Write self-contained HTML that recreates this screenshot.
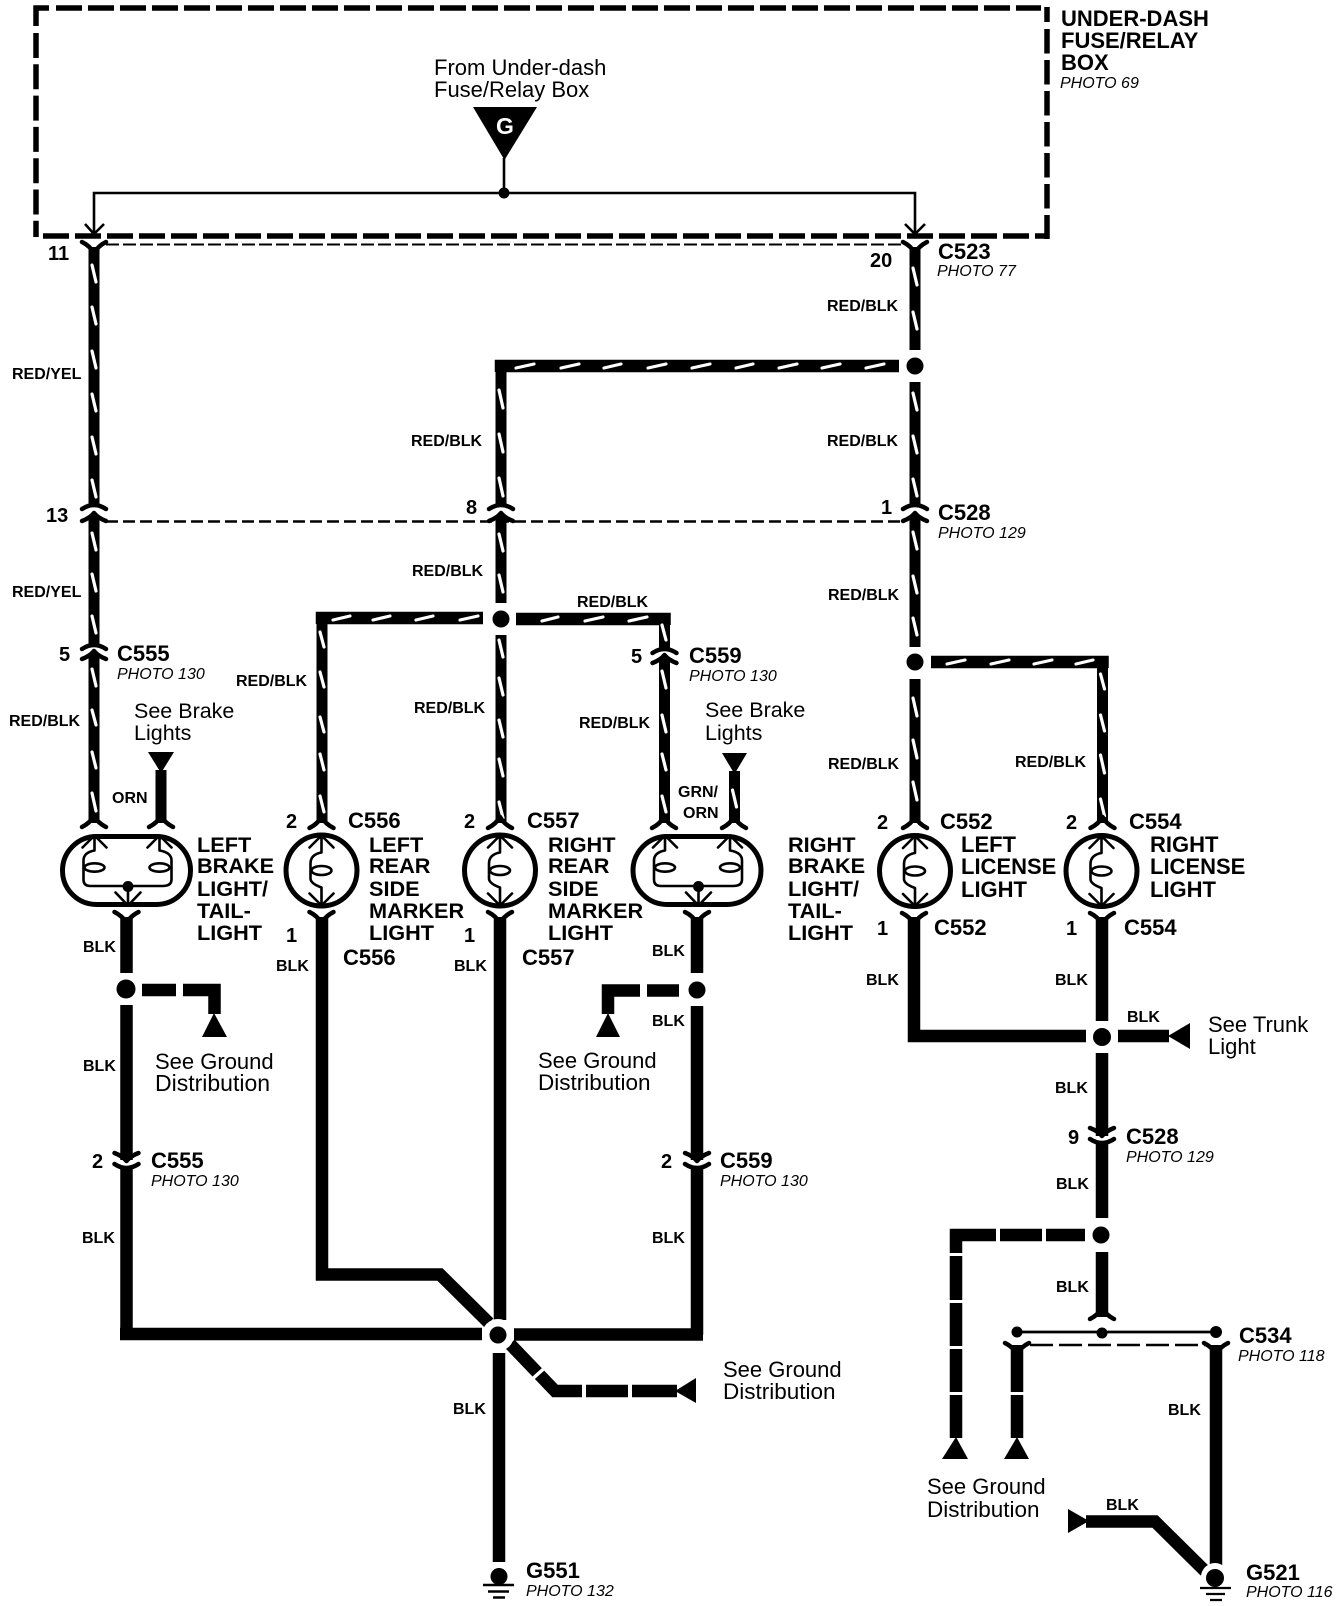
<!DOCTYPE html>
<html><head><meta charset="utf-8"><style>
html,body{margin:0;padding:0;background:#fff}
svg{display:block}
text{font-family:"Liberation Sans",sans-serif;fill:#000}
.b{font-weight:700;font-size:16px}
.c{font-weight:700;font-size:22px}
.n{font-weight:700;font-size:20px}
.t{font-weight:700;font-size:21.7px}
.h{font-weight:700;font-size:22px}
.p{font-style:italic;font-size:16px}
.s{font-size:22px}
.k{fill:none;stroke:#000;stroke-linecap:round;stroke-linejoin:round}
.w{fill:none;stroke:#000;stroke-linecap:butt;stroke-linejoin:miter}
</style></head><body>
<svg width="1344" height="1606" viewBox="0 0 1344 1606" xmlns="http://www.w3.org/2000/svg">
<rect width="1344" height="1606" fill="#fff"/>
<defs>
<path id="f" class="k" stroke-width="4.5" d="M-12,5Q-4,1 0,-6Q4,1 12,5"/>
<path id="y" class="k" stroke-width="4.5" d="M-12,-5Q-4,-1 0,6Q4,-1 12,-5"/>
<path id="a" class="k" stroke-width="4.5" d="M-12,3Q0,-5 12,3"/>
<path id="m" class="k" stroke-width="4.5" d="M-12,8Q-4,5 0,0Q4,5 12,8"/>
<path id="mv" class="k" stroke-width="4.5" d="M-12,-8Q-4,-5 0,0Q4,-5 12,-8"/>
<path id="av" class="k" stroke-width="4.5" d="M-12,-3Q0,5 12,-3"/>
<g id="bulb">
<circle r="35.5" fill="#fff" stroke="#000" stroke-width="5"/>
<path class="k" stroke-width="2.6" d="M0,-35V-18Q-11,-16 -11,-7V8Q-11,13 0,17V35M-12,-23L0,-35L12,-23M-12,23L0,35L12,23M-11,0H-8"/>
<ellipse rx="10" ry="4.5" fill="#fff" stroke="#000" stroke-width="2.6"/>
</g>
<g id="oval">
<rect x="-64" y="-34" width="128" height="68" rx="34" ry="34" fill="#fff" stroke="#000" stroke-width="5"/>
<path class="k" stroke-width="2.6" d="M-32,-35V-20Q-43,-18 -43,-10V9Q-43,15.5 -36,15.5H36Q45,15.5 45,9V-10Q45,-18 33,-20V-35M-44,-23L-32,-35L-20,-23M21,-23L33,-35L45,-23M1.5,16V35M-11,22L1.5,35L14,22M-43,-3H-40M45,-3H42"/>
<ellipse cx="-32" cy="-3" rx="10" ry="4.2" fill="#fff" stroke="#000" stroke-width="2.6"/>
<ellipse cx="33" cy="-3" rx="10" ry="4.2" fill="#fff" stroke="#000" stroke-width="2.6"/>
<circle cx="1.5" cy="16" r="5.5" fill="#000"/>
</g>
</defs>

<!-- fuse box -->
<g fill="none" stroke="#000" stroke-width="5.5">
<path d="M56 8H1041" stroke-dasharray="26 6"/>
<path d="M36 10V8H49" />
<path d="M43 236H1047" stroke-dasharray="26 6"/>
<path d="M36 33V237" stroke-dasharray="25 6.3"/>
<path d="M36 10V26"/>
<path d="M1047 7V22"/>
<path d="M1047 29V239" stroke-dasharray="24.5 6.5"/>
</g>
<!-- thin feed -->
<path d="M504 158V193M94 234V193H915V234" class="w" stroke-width="2.6"/>
<path d="M85 224L94 234L104 224M905 224L915 234L925 224" class="w" stroke-width="2.6"/>
<circle cx="504" cy="193" r="5.5"/>
<path d="M473 107H537L504.500 160Z"/>
<text x="505" y="134" text-anchor="middle" style="fill:#fff;font-size:23px;font-weight:700">G</text>
<!-- dashed connector lines -->
<path d="M106 244.5H904" fill="none" stroke="#000" stroke-width="2" stroke-dasharray="13 4"/>
<path d="M106 521.5H905" fill="none" stroke="#000" stroke-width="2.4" stroke-dasharray="12 5"/>
<path d="M1030 1345H1205" fill="none" stroke="#000" stroke-width="2.4" stroke-dasharray="23 6"/>

<!-- red wires -->
<g class="w" stroke-width="11">
<path d="M94 247V506M94 515V645M94 653V823"/>
<path d="M915 247V350M915 382V506M915 515V647M915 679V823"/>
<path d="M501 372V506M501 515V603M501 635V823"/>
<path d="M322 624V823"/>
<path d="M664.5 625V650M664.5 657V823"/>
<path d="M1102.5 668V823"/>
<path d="M161 770V823M734.5 771V823"/>
</g>
<g class="w" stroke-width="12.5">
<path d="M899 366H501V372"/>
<path d="M483 618H322V624"/>
<path d="M516 619H664.5V625"/>
<path d="M931 662H1102.5V668"/>
</g>
<!-- white slashes -->
<g fill="none" stroke="#fff" stroke-width="3.2" stroke-linecap="round">
<path d="M92 265l4 17M92 307l4 17M92 351l4 17M92 394l4 17M92 437l4 17M92 480l4 17M92 533l4 17M92 574l4 17M92 616l4 17M92 669l4 17M92 710l4 15M92 752l4 16M92 793l4 18"/>
<path d="M913 268l4 17M913 312l4 17M913 393l4 17M913 436l4 17M913 479l4 17M913 532l4 17M913 576l4 17M913 618l4 17M913 698l4 18M913 740l4 18M913 782l4 18"/>
<path d="M499 390l4 18M499 434l4 18M499 478l4 18M499 534l4 17M499 575l4 17M499 640l4 17M499 678l4 17M499 720l4 17M499 759l4 17M499 802l4 16"/>
<path d="M320 632l4 15M320 672l4 15M320 717l4 15M320 754l4 16M320 796l4 16"/>
<path d="M662 625l4 15M662 671l4 17M662 715l4 17M662 754l4 16M662 796l4 16"/>
<path d="M732.5 790l4 17M1100.500 674l4 15M1100.500 715l4 16M1100.500 755l4 18M1100.500 799l4 17"/>
<path d="M516 368l18-4M561 368l18-4M604 368l17-4M648 368l18-4M692 368l18-4M736 368l17-4M779 368l18-4M822 368l18-4M866 368l18-4"/>
<path d="M333 620l17-4M373 620l17-4M416 620l17-4M460 620l18-4"/>
<path d="M542 621l16-4M585 621l18-4M629 621l18-4"/>
<path d="M947 664l18-4M991 664l18-4M1034 664l18-4M1076 664l17-4"/>
</g>
<!-- black wires -->
<g class="w" stroke-width="12.5">
<path d="M126.5 917V973M126.5 1005V1160M126.5 1168V1334M120 1334H482"/>
<path d="M322 917V1274.500H440L489 1323" />
<path d="M500 917V1320M499 1353V1562"/>
<path d="M697 917V973M697 1006V1160M697 1168V1334.500M514 1334.500H703"/>
<path d="M914 917V1036H1086M908 1036H914"/>
<path d="M1102 917V1021M1102 1053V1136M1102 1142V1218M1102 1252V1317"/>
<path d="M1118 1036H1169"/>
<path d="M1017 1345V1438M1216 1345V1565"/>
<path d="M1086 1521.5H1155L1205 1571"/>
<path d="M1085 1235H956V1438"/>
<path d="M142 990H214.500V1014"/>
<path d="M679 990.500H608V1014"/>
<path d="M510 1344L555 1391H677"/>
</g>
<!-- gaps in branches -->
<g fill="#fff">
<rect x="176" y="980" width="7" height="18"/>
<rect x="640" y="980" width="7" height="18"/>
<rect x="996" y="1226" width="4" height="18"/>
<rect x="1042" y="1226" width="4" height="18"/>
<rect x="948" y="1253" width="16" height="3"/><rect x="948" y="1300" width="16" height="3"/><rect x="948" y="1346" width="16" height="3"/><rect x="948" y="1392" width="16" height="3"/>
<rect x="1008" y="1392" width="18" height="3"/>
<rect x="582" y="1381" width="4" height="20"/><rect x="628" y="1381" width="4" height="20"/>
</g>
<path d="M530 1381L548 1365" fill="none" stroke="#fff" stroke-width="3.5"/>
<!-- triangles -->
<g>
<path d="M148 752H174L161 773Z"/>
<path d="M722 753H747L734.500 774Z"/>
<path d="M214 1013L227 1037H202Z"/>
<path d="M608 1013L620 1037H596Z"/>
<path d="M1168 1036L1190 1023V1049Z"/>
<path d="M675 1391L696 1378V1403Z"/>
<path d="M956 1437L968 1459H942Z"/>
<path d="M1017 1437L1029 1459H1004Z"/>
<path d="M1089 1521L1068 1509V1533Z"/>
</g>
<!-- dots -->
<g>
<circle cx="915" cy="366" r="8.5"/>
<circle cx="501" cy="619" r="8.5"/>
<circle cx="915" cy="662" r="8.5"/>
<circle cx="126" cy="989" r="9.5"/>
<circle cx="697" cy="990" r="8.5"/>
<circle cx="1102" cy="1037" r="9"/>
<circle cx="1101" cy="1235" r="8.5"/>
<circle cx="498" cy="1335" r="16" fill="#fff"/>
<circle cx="498" cy="1335" r="8.5"/>
</g>
<path d="M1017 1332H1216" class="w" stroke-width="2.8"/>
<circle cx="1017" cy="1332" r="5.5"/><circle cx="1102" cy="1333" r="5.5"/><circle cx="1216" cy="1332" r="6"/>
<!-- grounds -->
<circle cx="499" cy="1576.500" r="8.5"/>
<path d="M483 1585H514M488 1591.500H509M493 1597.500H505" class="w" stroke-width="2.4"/>
<circle cx="1215" cy="1577" r="14" fill="#fff"/>
<circle cx="1215" cy="1578" r="9"/>
<path d="M1200 1588H1231M1206 1594H1225M1210 1600H1222" class="w" stroke-width="2.2"/>

<!-- connector marks -->
<use href="#y" x="94" y="247"/><use href="#y" x="915" y="247"/>
<use href="#a" x="94" y="506"/><use href="#m" x="94" y="513"/>
<use href="#a" x="501" y="506"/><use href="#m" x="501" y="513"/>
<use href="#a" x="915" y="506"/><use href="#m" x="915" y="513"/>
<use href="#a" x="94" y="646"/><use href="#m" x="94" y="651"/>
<use href="#a" x="664.500" y="650"/><use href="#m" x="664.500" y="655"/>
<use href="#f" x="94" y="822"/><use href="#f" x="161" y="822"/><use href="#f" x="321.500" y="823"/><use href="#f" x="500" y="823"/><use href="#f" x="664" y="823"/><use href="#f" x="734" y="823"/><use href="#f" x="915" y="823"/><use href="#f" x="1102.500" y="823"/>
<use href="#y" x="126.500" y="917"/><use href="#y" x="321.500" y="917"/><use href="#y" x="500" y="917"/><use href="#y" x="697" y="917"/><use href="#y" x="914" y="918"/><use href="#y" x="1102" y="918"/>
<use href="#mv" x="126.500" y="1161"/><use href="#av" x="126.500" y="1167"/>
<use href="#mv" x="697" y="1161"/><use href="#av" x="697" y="1167"/>
<use href="#mv" x="1102" y="1136"/><use href="#av" x="1102" y="1142"/>
<use href="#f" x="1102" y="1314"/>
<use href="#y" x="1017" y="1348"/><use href="#y" x="1216" y="1348"/>

<!-- lamps -->
<use href="#oval" x="126.500" y="870.500"/>
<use href="#oval" x="697" y="870.500"/>
<use href="#bulb" x="321.500" y="870.500"/>
<use href="#bulb" x="500" y="870.500"/>
<use href="#bulb" x="915" y="871"/>
<use href="#bulb" x="1101.500" y="871"/>

<!-- text -->
<text class="s" x="434" y="75">From Under-dash</text><text class="s" x="434" y="97">Fuse/Relay Box</text>
<text class="h" x="1061" y="26">UNDER-DASH</text><text class="h" x="1061" y="48">FUSE/RELAY</text><text class="h" x="1061" y="70">BOX</text><text class="p" x="1060" y="88">PHOTO 69</text>
<text class="n" x="48" y="260">11</text><text class="n" x="870" y="267">20</text>
<text class="c" x="938" y="259">C523</text><text class="p" x="937" y="276">PHOTO 77</text>
<text class="n" x="46" y="522">13</text><text class="n" x="466" y="514">8</text><text class="n" x="881" y="514">1</text>
<text class="c" x="938" y="520">C528</text><text class="p" x="938" y="538">PHOTO 129</text>
<text class="b" x="12" y="379">RED/YEL</text><text class="b" x="12" y="597">RED/YEL</text>
<text class="b" x="827" y="311">RED/BLK</text><text class="b" x="411" y="446">RED/BLK</text><text class="b" x="827" y="446">RED/BLK</text>
<text class="b" x="412" y="576">RED/BLK</text><text class="b" x="577" y="607">RED/BLK</text><text class="b" x="828" y="600">RED/BLK</text>
<text class="b" x="236" y="686">RED/BLK</text><text class="b" x="414" y="713">RED/BLK</text><text class="b" x="9" y="726">RED/BLK</text><text class="b" x="579" y="728">RED/BLK</text>
<text class="b" x="828" y="769">RED/BLK</text><text class="b" x="1015" y="767">RED/BLK</text>
<text class="n" x="59" y="661">5</text><text class="c" x="117" y="661">C555</text><text class="p" x="117" y="679">PHOTO 130</text>
<text class="n" x="631" y="663">5</text><text class="c" x="689" y="663">C559</text><text class="p" x="689" y="681">PHOTO 130</text>
<text class="s" x="134" y="718" style="font-size:21.5px">See Brake</text><text class="s" x="134" y="740" style="font-size:21.5px">Lights</text>
<text class="s" x="705" y="717" style="font-size:21.5px">See Brake</text><text class="s" x="705" y="740" style="font-size:21.5px">Lights</text>
<text class="b" x="112" y="803">ORN</text><text class="b" x="678" y="797">GRN/</text><text class="b" x="683" y="818">ORN</text>
<text class="n" x="286" y="828">2</text><text class="c" x="348" y="828">C556</text>
<text class="n" x="464" y="828">2</text><text class="c" x="527" y="828">C557</text>
<text class="n" x="877" y="829">2</text><text class="c" x="940" y="829">C552</text>
<text class="n" x="1066" y="829">2</text><text class="c" x="1129" y="829">C554</text>
<text class="t" x="197" y="852">LEFT</text><text class="t" x="197" y="873">BRAKE</text><text class="t" x="197" y="896">LIGHT/</text><text class="t" x="197" y="918">TAIL-</text><text class="t" x="197" y="940">LIGHT</text>
<text class="t" x="369" y="852">LEFT</text><text class="t" x="369" y="873">REAR</text><text class="t" x="369" y="896">SIDE</text><text class="t" x="369" y="918">MARKER</text><text class="t" x="369" y="940">LIGHT</text>
<text class="t" x="548" y="852">RIGHT</text><text class="t" x="548" y="873">REAR</text><text class="t" x="548" y="896">SIDE</text><text class="t" x="548" y="918">MARKER</text><text class="t" x="548" y="940">LIGHT</text>
<text class="t" x="788" y="852">RIGHT</text><text class="t" x="788" y="873">BRAKE</text><text class="t" x="788" y="896">LIGHT/</text><text class="t" x="788" y="918">TAIL-</text><text class="t" x="788" y="940">LIGHT</text>
<text class="h" x="961" y="852">LEFT</text><text class="h" x="961" y="874">LICENSE</text><text class="h" x="961" y="897">LIGHT</text>
<text class="h" x="1150" y="852">RIGHT</text><text class="h" x="1150" y="874">LICENSE</text><text class="h" x="1150" y="897">LIGHT</text>
<text class="n" x="286" y="942">1</text><text class="n" x="464" y="942">1</text><text class="n" x="877" y="935">1</text><text class="n" x="1066" y="935">1</text>
<text class="c" x="343" y="965">C556</text><text class="c" x="522" y="965">C557</text><text class="c" x="934" y="935">C552</text><text class="c" x="1124" y="935">C554</text>
<text class="b" x="83" y="952">BLK</text><text class="b" x="276" y="971">BLK</text><text class="b" x="454" y="971">BLK</text><text class="b" x="652" y="956">BLK</text><text class="b" x="652" y="1026">BLK</text>
<text class="b" x="866" y="985">BLK</text><text class="b" x="1055" y="985">BLK</text><text class="b" x="1127" y="1022">BLK</text><text class="b" x="1055" y="1093">BLK</text>
<text class="b" x="83" y="1071">BLK</text><text class="b" x="82" y="1243">BLK</text><text class="b" x="652" y="1243">BLK</text><text class="b" x="453" y="1414">BLK</text>
<text class="b" x="1056" y="1189">BLK</text><text class="b" x="1056" y="1292">BLK</text><text class="b" x="1168" y="1415">BLK</text><text class="b" x="1106" y="1510">BLK</text>
<text class="s" x="1208" y="1032">See Trunk</text><text class="s" x="1208" y="1054">Light</text>
<text class="s" x="155" y="1069">See Ground</text><text class="s" x="155" y="1091" style="font-size:23px">Distribution</text>
<text class="s" x="538" y="1068">See Ground</text><text class="s" x="538" y="1090" style="font-size:22.5px">Distribution</text>
<text class="s" x="723" y="1377">See Ground</text><text class="s" x="723" y="1399" style="font-size:22.5px">Distribution</text>
<text class="s" x="927" y="1494">See Ground</text><text class="s" x="927" y="1517" style="font-size:22.5px">Distribution</text>
<text class="n" x="1068" y="1144">9</text><text class="c" x="1126" y="1144">C528</text><text class="p" x="1126" y="1162">PHOTO 129</text>
<text class="n" x="92" y="1168">2</text><text class="c" x="151" y="1168">C555</text><text class="p" x="151" y="1186">PHOTO 130</text>
<text class="n" x="661" y="1168">2</text><text class="c" x="720" y="1168">C559</text><text class="p" x="720" y="1186">PHOTO 130</text>
<text class="c" x="1239" y="1343">C534</text><text class="p" x="1238" y="1361">PHOTO 118</text>
<text class="c" x="526" y="1578">G551</text><text class="p" x="526" y="1596">PHOTO 132</text>
<text class="c" x="1246" y="1580">G521</text><text class="p" x="1246" y="1597">PHOTO 116</text>
</svg>
</body></html>
